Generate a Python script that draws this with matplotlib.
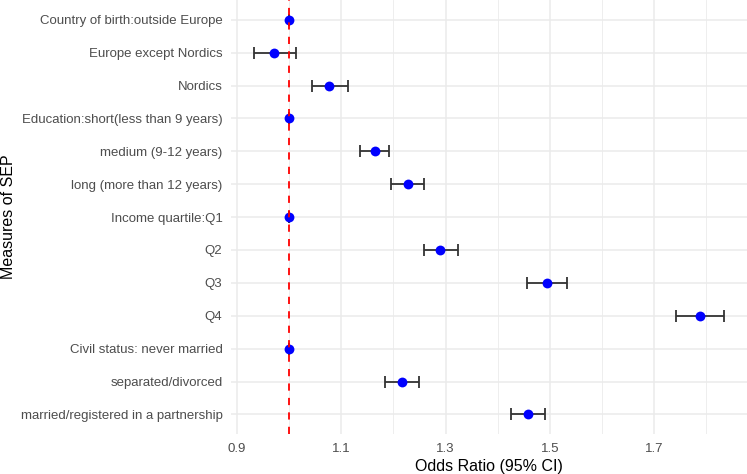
import numpy as np
import matplotlib
matplotlib.use('Agg')
from matplotlib import pyplot as plt

# Data (top to bottom)
labels = ['Country of birth:outside Europe', 'Europe except Nordics', 'Nordics',
          'Education:short(less than 9 years)', 'medium (9-12 years)', 'long (more than 12 years)',
          'Income quartile:Q1', 'Q2', 'Q3', 'Q4',
          'Civil status: never married', 'separated/divorced', 'married/registered in a partnership']
odds = [1.0, 0.971, 1.077, 1.0, 1.164, 1.227, 1.0, 1.290, 1.494, 1.787, 1.0, 1.216, 1.458]
ci_low = [1.0, 0.933, 1.043, 1.0, 1.135, 1.195, 1.0, 1.258, 1.456, 1.742, 1.0, 1.184, 1.425]
ci_high = [1.0, 1.013, 1.112, 1.0, 1.192, 1.258, 1.0, 1.324, 1.533, 1.833, 1.0, 1.249, 1.490]
x_ticks = [0.9, 1.1, 1.3, 1.5, 1.7]

plt.rcParams['font.family'] = ['Liberation Sans', 'DejaVu Sans']

fig = plt.figure(figsize=(7.47, 4.74), dpi=100)
ax = fig.add_axes([0.309, 0.084, 0.691, 0.916])

odds = np.array(odds)
ci_low = np.array(ci_low)
ci_high = np.array(ci_high)
y = np.arange(len(labels))[::-1] + 1

# error bars, then points, reference line on top
ax.errorbar(odds, y, xerr=[odds - ci_low, ci_high - odds], fmt='none',
            ecolor='#333333', elinewidth=1.3, capsize=4, capthick=1.3, zorder=3)
ax.scatter(odds, y, s=50, color='#0000FF', zorder=4, linewidths=0)
ax.axvline(1.0, color='#FF0000', linestyle=(0, (4, 4)), linewidth=1.3, zorder=5)

ax.set_yticks(y)
ax.set_yticklabels(labels)
ax.set_ylim(0.4, len(labels) + 0.6)

xmin = min(ci_low.min(), odds.min())
xmax = max(ci_high.max(), odds.max())
pad = (xmax - xmin) * 0.05
ax.set_xlim(xmin - pad, xmax + pad)
ax.set_xticks(x_ticks)
ax.set_xticks([1.0, 1.2, 1.4, 1.6, 1.8], minor=True)
ax.set_xticklabels([f'{t:.1f}' for t in x_ticks])

# ggplot theme_minimal look
for s in ax.spines.values():
    s.set_visible(False)
ax.grid(True, which='major', color='#EBEBEB', linewidth=1.1, zorder=0)
ax.grid(True, which='minor', axis='x', color='#EBEBEB', linewidth=0.6, zorder=0)
ax.set_axisbelow(True)
ax.tick_params(axis='both', which='both', length=0, labelsize=9.5, labelcolor='#4D4D4D')
ax.tick_params(axis='y', pad=6)
ax.tick_params(axis='x', pad=6)

ax.set_xlabel('Odds Ratio (95% CI)', fontsize=11.5, color='black', labelpad=3)
ax.set_ylabel('Measures of SEP', fontsize=11.5, color='black')
ax.yaxis.set_label_coords(0.022, 0.5 * (0.084 + 1.0), transform=fig.transFigure)

fig.savefig('out.png', dpi=100)
